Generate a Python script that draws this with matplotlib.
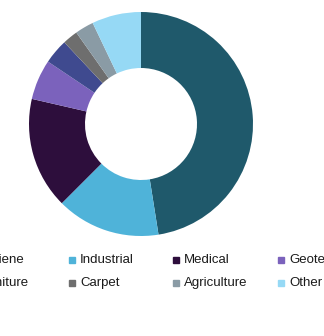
import matplotlib
matplotlib.use("Agg")
import matplotlib.pyplot as plt
from matplotlib.patches import Rectangle

plt.rcParams['font.family'] = ['Liberation Sans', 'DejaVu Sans']

# donut share by application (%)
labels = ["Hygiene", "Industrial", "Medical", "Geotextiles",
          "Furniture", "Carpet", "Agriculture", "Other"]
shares = [47.5, 15.0, 16.1, 5.8, 3.6, 2.2, 2.7, 7.1]
colors = ["#1f596b", "#4fb3d9", "#2d0e3c", "#7b62bc",
          "#3f4a8f", "#6e6e6e", "#8a9ba5", "#96d9f5"]

W, H = 324, 336
fig = plt.figure(figsize=(W / 100, H / 100), dpi=100)

# donut centre (px from top-left) and radius
cx, cy, r = 141, 124, 112
ax = fig.add_axes([(cx - r) / W, (H - cy - r) / H, 2 * r / W, 2 * r / H])
ax.pie(shares, colors=colors, startangle=90, counterclock=False,
       radius=1, wedgeprops=dict(width=0.5, edgecolor="none"))
ax.set_xlim(-1, 1)
ax.set_ylim(-1, 1)
ax.set_aspect("equal")
ax.axis("off")

# legend, 2 rows x 4 cols, cut off at the figure edges like the original
col_x = [-32, 72, 176, 281]
row_y = [260, 283]
for i, (lab, col) in enumerate(zip(labels, colors)):
    row, c = divmod(i, 4)
    x, y = col_x[c], row_y[row]
    fig.patches.append(Rectangle(((x - 3) / W, (H - y - 3) / H), 6 / W, 6 / H,
                                 transform=fig.transFigure, color=col))
    fig.text((x + 8) / W, (H - y) / H, lab, fontsize=9.5, color="#1a1a1a",
             va="center", ha="left")

fig.savefig("out.png", dpi=100)
